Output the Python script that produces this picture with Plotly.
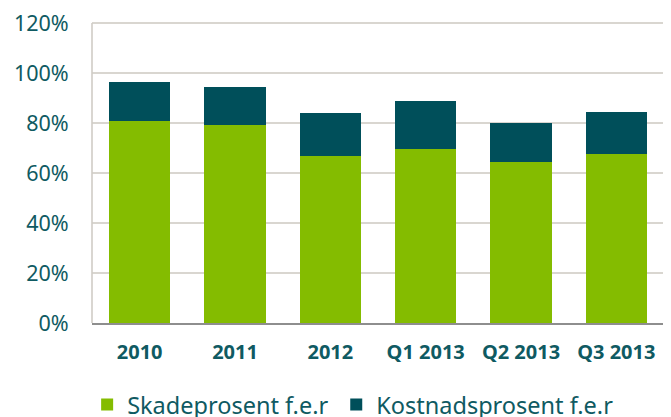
import plotly.graph_objects as go

categories = ["2010", "2011", "2012", "Q1 2013", "Q2 2013", "Q3 2013"]
skade = [0.807, 0.792, 0.668, 0.696, 0.644, 0.676]
kostnad = [0.156, 0.152, 0.171, 0.191, 0.156, 0.167]
y_ticks = [0, 0.2, 0.4, 0.6, 0.8, 1.0, 1.2]

GREEN = "#84BC00"
DARK = "#004F5A"
TEXT = "#0F5A62"
GRID = "#D9D6D0"
FONT = "Noto Sans"

fig = go.Figure()
fig.add_trace(go.Bar(x=categories, y=skade, name="Skadeprosent f.e.r",
                     marker=dict(color=GREEN, line=dict(width=0)), legend="legend"))
fig.add_trace(go.Bar(x=categories, y=kostnad, name="Kostnadsprosent f.e.r",
                     marker=dict(color=DARK, line=dict(width=0)), legend="legend2"))

# plot area: 307 px tall, 250 px per 100 % -> 1.2 sits 7 px below the plot top
legend_common = dict(orientation="h", xanchor="left", y=-0.2658, yanchor="middle",
                     font=dict(family=FONT, size=23.5, color=TEXT),
                     bgcolor="rgba(0,0,0,0)")

fig.update_layout(
    width=671, height=417,
    barmode="stack", bargap=0.355,
    margin=dict(l=84, r=15, t=8, b=102, autoexpand=False),
    paper_bgcolor="white", plot_bgcolor="white",
    font=dict(family=FONT, color=TEXT, size=20),
    showlegend=True,
    legend=dict(x=-0.0085, **legend_common),
    legend2=dict(x=0.427, **legend_common),
    xaxis=dict(showgrid=False, showline=True, linecolor="#8E8E8E", linewidth=2,
               ticks="outside", ticklen=10, tickcolor="rgba(0,0,0,0)",
               tickfont=dict(family=FONT, size=20, color=TEXT, weight="bold")),
    yaxis=dict(range=[0, 1.228], tickvals=y_ticks, tickformat=".0%",
               ticklabeloverflow="allow",
               showgrid=True, gridcolor=GRID, gridwidth=1.6,
               showline=False, zeroline=False,
               ticks="outside", ticklen=18, tickcolor="rgba(0,0,0,0)",
               tickfont=dict(family=FONT, size=21.5, color=TEXT)),
)

# left border of the plot area, from 0 % up to the top gridline
fig.add_shape(type="line", xref="paper", yref="y", x0=0, x1=0,
              y0=y_ticks[0], y1=y_ticks[-1], layer="above",
              line=dict(color="#D0CCC6", width=1.6))

fig.write_html("out.html")
